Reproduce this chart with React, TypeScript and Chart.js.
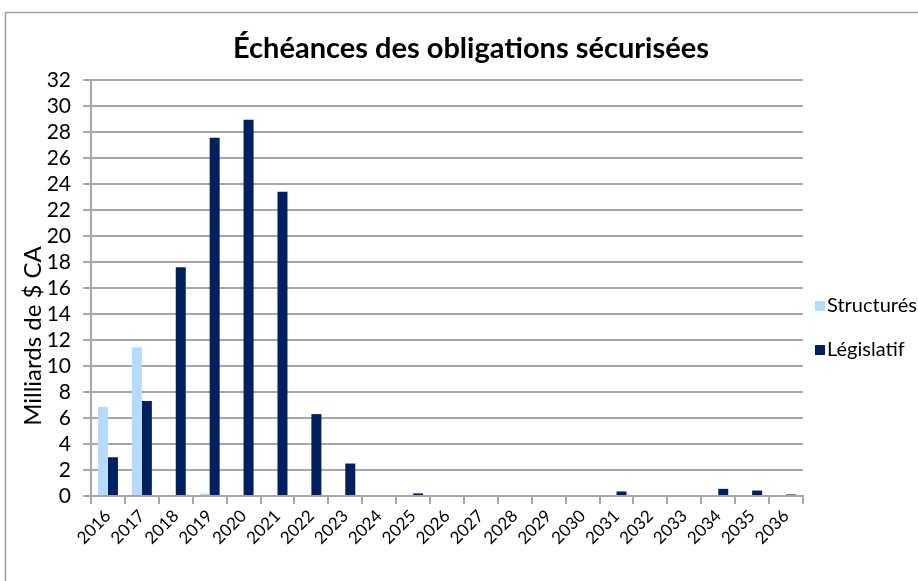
import React, { useEffect, useRef } from "react";
import { Chart, registerables } from "chart.js";

Chart.register(...registerables);

const years = ["2016","2017","2018","2019","2020","2021","2022","2023","2024","2025","2026","2027","2028","2029","2030","2031","2032","2033","2034","2035","2036"];
const structures = [6.85, 11.45, 0, 0.2, 0, 0, 0, 0, 0, 0, 0, 0, 0, 0, 0, 0, 0, 0, 0, 0, 0];
const legislatif = [2.98, 7.3, 17.6, 27.55, 28.95, 23.4, 6.3, 2.5, 0, 0.2, 0, 0, 0, 0, 0, 0.35, 0, 0, 0.55, 0.42, 0.12];
const seriesNames = ["Structurés", "Législatif"];
const chartTitle = "Échéances des obligations sécurisées";
const yAxisTitle = "Milliards de $ CA";

const FONT = "Lato, 'Open Sans', sans-serif";
const LIGHT = "#b7dbfd";
const DARK = "#00205f";
const GRID = "#a6a6a6";

const decorPlugin = {
  id: "decor",
  afterDraw(chart: any) {
    const ctx = chart.ctx;
    ctx.save();
    ctx.strokeStyle = "#a0a0a0";
    ctx.lineWidth = 1.5;
    ctx.beginPath();
    ctx.moveTo(5.5, 600);
    ctx.lineTo(5.5, 12.5);
    ctx.lineTo(930, 12.5);
    ctx.stroke();
    ctx.fillStyle = "#000";
    ctx.font = `bold 29px ${FONT}`;
    ctx.textAlign = "center";
    ctx.textBaseline = "middle";
    ctx.fillText(chartTitle, 471, 49);
    ctx.save();
    ctx.translate(33, 336);
    ctx.rotate(-Math.PI / 2);
    ctx.font = `24px ${FONT}`;
    ctx.fillText(yAxisTitle, 0, 0);
    ctx.restore();
    const colors = chart.data.datasets.map((d: any) => d.backgroundColor);
    const labels = chart.data.datasets.map((d: any) => d.label);
    ctx.font = `20px ${FONT}`;
    ctx.textAlign = "left";
    labels.forEach((lab: string, i: number) => {
      const cy = 306 + i * 44;
      ctx.fillStyle = colors[i];
      ctx.fillRect(815, cy - 5, 10, 10);
      ctx.fillStyle = "#000";
      ctx.fillText(lab, 827, cy);
    });
    ctx.restore();
  },
};

export default function App() {
  const ref = useRef<HTMLCanvasElement>(null);
  useEffect(() => {
    if (!ref.current) return;
    const chart = new Chart(ref.current, {
      type: "bar",
      data: {
        labels: years,
        datasets: [
          { label: seriesNames[0], data: structures, backgroundColor: LIGHT, categoryPercentage: 0.59, barPercentage: 1 },
          { label: seriesNames[1], data: legislatif, backgroundColor: DARK, categoryPercentage: 0.59, barPercentage: 1 },
        ],
      },
      options: {
        animation: false,
        responsive: true,
        maintainAspectRatio: false,
        layout: { padding: { top: 80, right: 115, left: 0, bottom: 0 } },
        plugins: { legend: { display: false }, title: { display: false }, tooltip: { enabled: false } },
        scales: {
          x: {
            afterFit: (s: any) => { s.height = 85; },
            grid: { display: true, drawOnChartArea: false, drawTicks: true, tickLength: 8, color: GRID, lineWidth: 2, offset: true },
            border: { display: true, color: GRID, width: 2 },
            ticks: { color: "#000", font: { family: FONT, size: 17 }, minRotation: 45, maxRotation: 45, autoSkip: false, padding: 2 },
          },
          y: {
            min: 0,
            max: 32,
            afterFit: (s: any) => { s.width = 91; },
            grid: { color: GRID, lineWidth: 2, drawTicks: true, tickLength: 8 },
            border: { display: true, color: GRID, width: 2 },
            ticks: { stepSize: 2, autoSkip: false, color: "#000", font: { family: FONT, size: 21 }, padding: 12 },
          },
        },
      },
      plugins: [decorPlugin],
    });
    return () => chart.destroy();
  }, []);
  return (
    <div style={{ position: "fixed", left: 0, top: 0, width: 918, height: 581, background: "#fff" }}>
      <canvas ref={ref} />
    </div>
  );
}
